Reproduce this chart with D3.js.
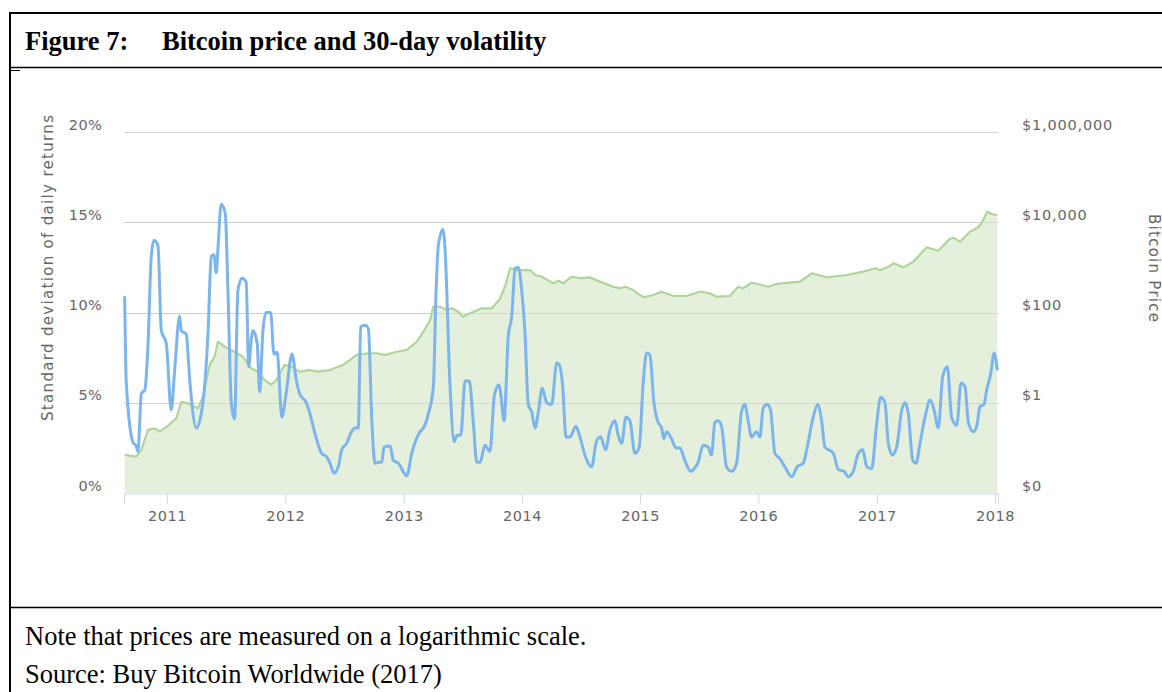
<!DOCTYPE html>
<html>
<head>
<meta charset="utf-8">
<script src="https://cdn.jsdelivr.net/npm/d3@7"></script>
<style>
  body { margin: 0; background: #fff; }
  svg { display: block; }
</style>
</head>
<body>
<svg id="chart" width="1162" height="692"></svg>
<script>
// 30-day volatility (std dev of daily returns, %) : [decimal year, value]
const volatility = [
  [2010.642,10.9],[2010.656,6.1],[2010.713,2.8],[2010.740,2.6],[2010.755,2.3],[2010.783,5.5],[2010.812,5.7],[2010.839,8.1],
  [2010.867,13.1],[2010.890,14.0],[2010.924,13.7],[2010.952,9.0],[2010.994,8.3],[2011.036,4.6],[2011.065,6.8],[2011.107,9.8],
  [2011.121,9.0],[2011.163,8.8],[2011.192,6.3],[2011.248,3.6],[2011.304,5.0],[2011.347,8.8],[2011.375,13.1],[2011.397,13.2],
  [2011.417,12.2],[2011.431,13.5],[2011.459,16.0],[2011.493,15.5],[2011.516,11.2],[2011.544,5.0],[2011.572,4.1],[2011.600,11.2],
  [2011.634,11.9],[2011.670,11.7],[2011.691,7.0],[2011.713,8.5],[2011.727,9.0],[2011.763,8.3],[2011.784,5.6],[2011.812,9.0],
  [2011.839,10.0],[2011.877,10.0],[2011.905,7.7],[2011.932,7.8],[2011.972,4.2],[2012.008,5.5],[2012.057,7.7],[2012.093,6.3],
  [2012.122,5.5],[2012.178,5.0],[2012.209,4.4],[2012.251,3.3],[2012.308,2.2],[2012.350,2.0],[2012.378,1.65],[2012.412,1.1],
  [2012.448,1.45],[2012.477,2.4],[2012.519,2.75],[2012.561,3.4],[2012.589,3.6],[2012.617,3.6],[2012.637,9.2],[2012.674,9.3],
  [2012.702,9.1],[2012.730,4.2],[2012.758,1.65],[2012.786,1.7],[2012.815,1.7],[2012.834,2.55],[2012.885,2.6],[2012.913,1.8],
  [2012.955,1.65],[2013.026,0.95],[2013.068,2.2],[2013.139,3.4],[2013.167,3.6],[2013.209,4.4],[2013.251,5.9],[2013.274,11.2],
  [2013.293,13.7],[2013.331,14.6],[2013.350,13.5],[2013.392,5.9],[2013.429,2.85],[2013.449,3.2],[2013.483,3.2],[2013.519,6.2],
  [2013.555,6.2],[2013.589,3.9],[2013.618,1.7],[2013.646,1.7],[2013.688,2.65],[2013.730,2.3],[2013.767,5.4],[2013.806,6.0],
  [2013.821,5.5],[2013.849,4.0],[2013.885,8.7],[2013.914,9.8],[2013.942,12.45],[2013.970,12.5],[2013.998,11.25],[2014.026,8.85],
  [2014.054,4.9],[2014.083,4.5],[2014.111,3.6],[2014.139,4.5],[2014.172,5.8],[2014.210,5.0],[2014.252,4.9],[2014.294,7.2],
  [2014.316,7.1],[2014.345,5.9],[2014.373,3.1],[2014.407,3.1],[2014.457,3.7],[2014.491,3.1],[2014.533,2.1],[2014.561,1.65],
  [2014.590,1.45],[2014.632,2.9],[2014.666,3.1],[2014.708,2.4],[2014.745,3.5],[2014.787,4.0],[2014.815,3.2],[2014.844,2.75],
  [2014.880,4.2],[2014.914,4.0],[2014.956,2.2],[2014.992,2.5],[2015.026,6.1],[2015.055,7.75],[2015.083,7.65],[2015.117,5.0],
  [2015.153,3.9],[2015.182,3.6],[2015.201,3.0],[2015.224,3.4],[2015.266,3.0],[2015.303,2.5],[2015.336,2.5],[2015.379,1.8],
  [2015.427,1.2],[2015.463,1.4],[2015.491,1.7],[2015.533,2.65],[2015.576,2.55],[2015.604,2.1],[2015.632,3.9],[2015.660,4.0],
  [2015.689,3.7],[2015.731,1.45],[2015.773,1.2],[2015.816,1.65],[2015.858,4.5],[2015.886,4.9],[2015.914,4.0],[2015.943,3.1],
  [2015.985,3.4],[2016.013,3.1],[2016.041,4.7],[2016.074,4.9],[2016.103,4.6],[2016.140,2.2],[2016.182,1.9],[2016.224,1.45],
  [2016.281,0.9],[2016.328,1.45],[2016.379,1.65],[2016.413,2.55],[2016.463,4.2],[2016.501,4.9],[2016.534,4.0],[2016.562,2.55],
  [2016.632,2.2],[2016.675,1.3],[2016.723,1.2],[2016.759,0.9],[2016.801,1.2],[2016.844,2.2],[2016.881,2.4],[2016.915,1.45],
  [2016.957,1.35],[2016.993,3.5],[2017.033,5.3],[2017.069,5.0],[2017.097,2.75],[2017.131,2.1],[2017.168,2.55],[2017.211,4.6],
  [2017.239,5.0],[2017.266,4.4],[2017.304,1.8],[2017.332,1.65],[2017.365,2.75],[2017.408,4.2],[2017.450,5.15],[2017.484,4.6],
  [2017.520,3.6],[2017.557,6.45],[2017.596,7.0],[2017.633,4.2],[2017.676,3.75],[2017.712,6.1],[2017.746,5.9],[2017.774,3.9],
  [2017.816,3.4],[2017.845,3.7],[2017.873,4.8],[2017.906,4.9],[2017.929,5.7],[2017.963,6.6],[2017.993,7.75],[2018.019,6.8]
];

// Bitcoin price in USD (log scale) : [decimal year, price]
const price = [
  [2010.642,0.07],[2010.740,0.064],[2010.783,0.09],[2010.839,0.25],[2010.896,0.27],[2010.938,0.23],[2010.994,0.29],
  [2011.079,0.45],[2011.121,1.05],[2011.178,0.97],[2011.262,0.75],[2011.304,1.36],[2011.361,6.9],[2011.403,10.5],
  [2011.431,22.5],[2011.488,17.5],[2011.572,13.5],[2011.642,10.5],[2011.713,5.8],[2011.769,4.9],[2011.826,3.2],
  [2011.882,2.5],[2011.924,3.2],[2011.995,6.9],[2012.051,6.3],[2012.122,4.9],[2012.206,5.3],[2012.276,4.9],
  [2012.378,5.3],[2012.490,6.9],[2012.604,11.5],[2012.702,12.5],[2012.773,12.5],[2012.843,11.5],[2012.942,13.5],
  [2013.026,14.8],[2013.111,22.5],[2013.167,37.6],[2013.223,68],[2013.251,135],[2013.308,135],[2013.364,113],
  [2013.407,124],[2013.462,104],[2013.500,81],[2013.561,96],[2013.660,124],[2013.745,124],[2013.815,200],
  [2013.860,400],[2013.900,955],[2013.957,870],[2014.070,870],[2014.111,676],[2014.168,622],[2014.266,443],
  [2014.308,507],[2014.350,443],[2014.421,622],[2014.491,573],[2014.576,600],[2014.660,483],[2014.773,373],
  [2014.829,343],[2014.872,373],[2014.942,315],[2014.998,244],[2015.032,217],[2015.111,244],[2015.182,289],
  [2015.280,232],[2015.393,232],[2015.505,289],[2015.590,266],[2015.647,224],[2015.759,232],[2015.830,373],
  [2015.872,343],[2015.943,457],[2016.083,373],[2016.154,429],[2016.351,483],[2016.450,740],[2016.577,603],
  [2016.746,678],[2016.886,803],[2016.985,955],[2017.027,860],[2017.112,1072],[2017.140,1230],[2017.225,1000],
  [2017.309,1336],[2017.422,2790],[2017.520,2340],[2017.613,4200],[2017.647,4550],[2017.703,3710],[2017.788,6170],
  [2017.858,7720],[2017.900,11200],[2017.934,17100],[2017.971,15200],[2018.019,14500]
];

const yearTicks = [2011, 2012, 2013, 2014, 2015, 2016, 2017, 2018];
const volTicks = [0, 5, 10, 15, 20];
const priceTicks = [0.01, 1, 100, 10000, 1000000];
const dateDomain = [2010.6365, 2018.025];

const titleLabel = "Figure 7:";
const titleText = "Bitcoin price and 30-day volatility";
const noteText = "Note that prices are measured on a logarithmic scale.";
const sourceText = "Source: Buy Bitcoin Worldwide (2017)";
const leftAxisTitle = "Standard deviation of daily returns";
const rightAxisTitle = "Bitcoin Price";

// decimal year -> Date
function toDate(y) {
  const yr = Math.floor(y);
  const s = new Date(yr, 0, 1), e = new Date(yr + 1, 0, 1);
  return new Date(+s + (y - yr) * (e - s));
}

const svg = d3.select("#chart");
const chartFont = "'DejaVu Sans', sans-serif";
const serifFont = "'Liberation Serif', 'Times New Roman', serif";
const labelColor = "#666";

const plot = { left: 124, right: 998, top: 132, bottom: 493 };

const x = d3.scaleTime()
  .domain(dateDomain.map(toDate))
  .range([plot.left, plot.right]);

const yVol = d3.scaleLinear()
  .domain([0, 20])
  .range([plot.bottom, plot.top]);

const yPrice = d3.scaleLog()
  .domain([0.01, 1000000])
  .range([plot.bottom, plot.top]);

// frame of the figure box
const frame = svg.append("g").attr("stroke", "#000");
frame.append("line").attr("x1", 10).attr("x2", 10).attr("y1", 12).attr("y2", 692).attr("stroke-width", 2);
frame.append("line").attr("x1", 9).attr("x2", 1162).attr("y1", 13).attr("y2", 13).attr("stroke-width", 2);
frame.append("line").attr("x1", 9).attr("x2", 1162).attr("y1", 67.5).attr("y2", 67.5).attr("stroke-width", 1.5);
frame.append("line").attr("x1", 11).attr("x2", 20).attr("y1", 70.5).attr("y2", 70.5).attr("stroke-width", 1);
frame.append("line").attr("x1", 9).attr("x2", 1162).attr("y1", 607.5).attr("y2", 607.5).attr("stroke-width", 1.5);

// title
svg.append("text")
  .attr("x", 25).attr("y", 50)
  .style("font-family", serifFont)
  .style("font-weight", "bold")
  .style("font-size", "26.5px")
  .text(titleLabel);
svg.append("text")
  .attr("x", 162).attr("y", 50)
  .style("font-family", serifFont)
  .style("font-weight", "bold")
  .style("font-size", "26.5px")
  .text(titleText);

// notes
svg.append("text")
  .attr("x", 25).attr("y", 645)
  .style("font-family", serifFont)
  .style("font-size", "26.5px")
  .text(noteText);
svg.append("text")
  .attr("x", 25).attr("y", 683)
  .style("font-family", serifFont)
  .style("font-size", "26.5px")
  .text(sourceText);

// gridlines
svg.append("g")
  .selectAll("line")
  .data(volTicks.filter(d => d > 0))
  .join("line")
  .attr("x1", plot.left).attr("x2", plot.right)
  .attr("y1", d => Math.round(yVol(d)) + 0.5)
  .attr("y2", d => Math.round(yVol(d)) + 0.5)
  .attr("stroke", "#d8d8d8")
  .attr("stroke-width", 1);

// price area + line
const priceArea = d3.area()
  .x(d => x(toDate(d[0])))
  .y0(plot.bottom)
  .y1(d => yPrice(d[1]));

const priceLine = d3.line()
  .x(d => x(toDate(d[0])))
  .y(d => yPrice(d[1]));

svg.append("path")
  .datum(price)
  .attr("d", priceArea)
  .attr("fill", "#e5f0dc");

// gridlines seen through the area fill
svg.append("g")
  .selectAll("line")
  .data(volTicks.filter(d => d > 0))
  .join("line")
  .attr("x1", plot.left).attr("x2", plot.right)
  .attr("y1", d => Math.round(yVol(d)) + 0.5)
  .attr("y2", d => Math.round(yVol(d)) + 0.5)
  .attr("stroke", "#c9cec4")
  .attr("stroke-opacity", 0.7)
  .attr("stroke-width", 1);

svg.append("path")
  .datum(price)
  .attr("d", priceLine)
  .attr("fill", "none")
  .attr("stroke", "#afd69a")
  .attr("stroke-width", 2.2)
  .attr("stroke-linejoin", "round");

// volatility line
const volLine = d3.line()
  .curve(d3.curveMonotoneX)
  .x(d => x(toDate(d[0])))
  .y(d => yVol(d[1]));

svg.append("path")
  .datum(volatility)
  .attr("d", volLine)
  .attr("fill", "none")
  .attr("stroke", "#7cb5ec")
  .attr("stroke-width", 3)
  .attr("stroke-linejoin", "round");

// bottom axis
const xAxis = svg.append("g")
  .attr("transform", `translate(0,${plot.bottom + 0.5})`)
  .call(d3.axisBottom(x)
    .tickValues(yearTicks.map(toDate))
    .tickFormat(d3.timeFormat("%Y"))
    .tickSizeOuter(0)
    .tickSize(10)
    .tickPadding(7));
xAxis.select(".domain").attr("stroke", "#ccd6eb");
xAxis.selectAll(".tick line").attr("stroke", "#ccd6eb");
xAxis.selectAll("text")
  .attr("fill", labelColor)
  .style("font-family", chartFont)
  .style("font-size", "14.5px")
  .style("letter-spacing", "0.5px");

// left axis
const leftAxis = svg.append("g")
  .attr("transform", `translate(${plot.left},0)`)
  .call(d3.axisLeft(yVol)
    .tickValues(volTicks)
    .tickFormat(d => d + "%")
    .tickSize(0)
    .tickPadding(22));
leftAxis.select(".domain").remove();
leftAxis.selectAll("text")
  .attr("dy", "-0.2em")
  .attr("fill", labelColor)
  .style("font-family", chartFont)
  .style("font-size", "14.5px")
  .style("letter-spacing", "0.3px");

// right axis
const rightAxis = svg.append("g")
  .attr("transform", `translate(${plot.right},0)`)
  .call(d3.axisRight(yPrice)
    .tickValues(priceTicks)
    .tickFormat(d => "$" + d3.format(",")(Math.round(d)))
    .tickSize(0)
    .tickPadding(24));
rightAxis.select(".domain").remove();
rightAxis.selectAll("text")
  .attr("dy", "-0.2em")
  .attr("fill", labelColor)
  .style("font-family", chartFont)
  .style("font-size", "14.5px")
  .style("letter-spacing", "0.8px");

// axis titles
svg.append("text")
  .attr("transform", "translate(53,268) rotate(-90)")
  .attr("text-anchor", "middle")
  .attr("fill", labelColor)
  .attr("textLength", 306)
  .attr("lengthAdjust", "spacing")
  .style("font-family", chartFont)
  .style("font-size", "15px")
  .text(leftAxisTitle);

svg.append("text")
  .attr("transform", "translate(1149,268) rotate(90)")
  .attr("text-anchor", "middle")
  .attr("fill", labelColor)
  .attr("textLength", 108)
  .attr("lengthAdjust", "spacing")
  .style("font-family", chartFont)
  .style("font-size", "15px")
  .text(rightAxisTitle);
</script>
</body>
</html>
